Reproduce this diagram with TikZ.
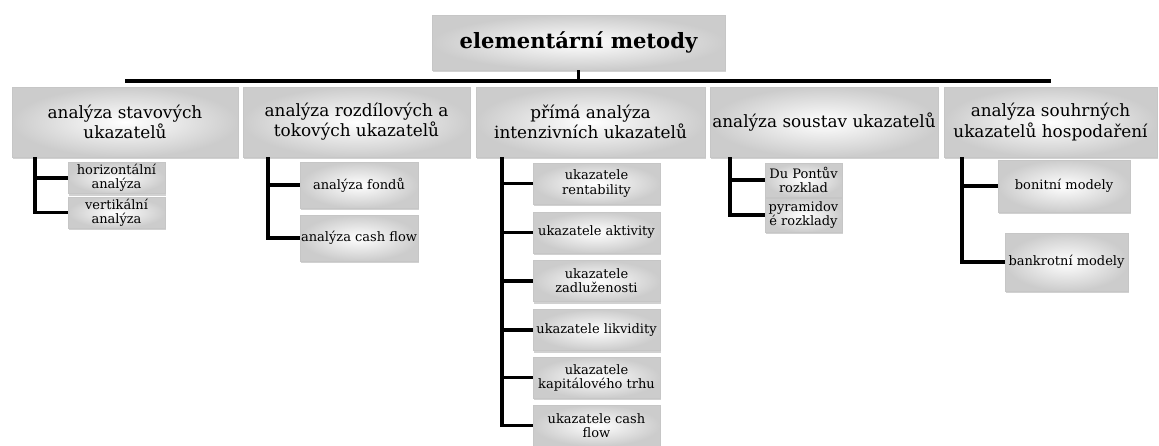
\documentclass[tikz,border=0pt]{standalone}
\usepackage{fontspec}
\setmainfont{DejaVu Serif}
\usetikzlibrary{shadows}

\begin{document}
\begin{tikzpicture}[x=0.02cm, y=-0.02cm,
		box/.style={rectangle, inner sep=1pt, align=center, draw=gray!45, line width=0.4pt, inner color=white, outer color=gray!40, drop shadow={shadow xshift=0.8pt, shadow yshift=-1.2pt, fill=gray!60, opacity=0.6}},
		rootBox/.style={box, font=\fontsize{12}{14}\selectfont\bfseries, minimum width=5.86cm, minimum height=1.1cm},
		mainBox/.style={box, font=\fontsize{9.6}{11.5}\selectfont, minimum height=1.4cm},
		subBox/.style={box, inner sep=0.5pt, font=\fontsize{7.4}{8}\selectfont},
		link/.style={line width=2.2pt, black}]
		\useasboundingbox (0,0) rectangle (1159,446);
		% top level
		\node[rootBox](root) at (578.5,42.5){elementární metody};
		\node[mainBox, minimum width=4.52cm](mainStav) at (125,122){analýza stavových\\ukazatelů};
		\node[mainBox, minimum width=4.54cm](mainRozdil) at (356.5,122){analýza rozdílových a\\tokových ukazatelů};
		\node[mainBox, minimum width=4.58cm](mainPrima) at (590.5,122){přímá analýza\\intenzivních ukazatelů};
		\node[mainBox, minimum width=4.56cm](mainSoustav) at (824,122){analýza soustav ukazatelů};
		\node[mainBox, minimum width=4.26cm](mainSouhrn) at (1050.5,122){analýza souhrných\\ukazatelů hospodaření};
		% second level
		\node[subBox, minimum width=1.94cm, minimum height=0.62cm](subHoriz) at (116.5,178){horizontální\\analýza};
		\node[subBox, minimum width=1.94cm, minimum height=0.62cm](subVert) at (116.5,212.5){vertikální\\analýza};
		\node[subBox, minimum width=2.36cm, minimum height=0.92cm](subFondy) at (359,185){analýza fondů};
		\node[subBox, minimum width=2.36cm, minimum height=0.92cm](subCash) at (359,238){analýza cash flow};
		\node[subBox, minimum width=2.54cm, minimum height=0.82cm](subRent) at (596.5,183.5){ukazatele\\rentability};
		\node[subBox, minimum width=2.54cm, minimum height=0.82cm](subAktiv) at (596.5,232.5){ukazatele aktivity};
		\node[subBox, minimum width=2.54cm, minimum height=0.82cm](subZadluz) at (596.5,281){ukazatele\\zadluženosti};
		\node[subBox, minimum width=2.54cm, minimum height=0.82cm](subLikvid) at (596.5,330){ukazatele likvidity};
		\node[subBox, minimum width=2.54cm, minimum height=0.82cm](subKapital) at (596.5,377.5){ukazatele\\kapitálového trhu};
		\node[subBox, minimum width=2.54cm, minimum height=0.82cm](subCashFlow) at (596.5,425.5){ukazatele cash\\flow};
		\node[subBox, minimum width=1.54cm, minimum height=0.68cm](subDuPont) at (803.5,180){Du Pontův\\rozklad};
		\node[subBox, minimum width=1.54cm, minimum height=0.68cm](subPyramid) at (803.5,215){pyramidov\\é rozklady};
		\node[subBox, minimum width=2.64cm, minimum height=1.04cm](subBonit) at (1064,186){bonitní modely};
		\node[subBox, minimum width=2.46cm, minimum height=1.16cm](subBankrot) at (1066.5,262){bankrotní modely};
		% connectors
		\coordinate (bus) at (578.5,81);
		\draw[link] (root.south) -- (bus);
		\draw[link] (bus -| mainStav) -- (bus -| mainSouhrn);
		\foreach \s in {subHoriz,subVert}
			\draw[link] ([xshift=0.46cm]mainStav.south west) |- (\s.west);
		\foreach \s in {subFondy,subCash}
			\draw[link] ([xshift=0.5cm]mainRozdil.south west) |- (\s.west);
		\foreach \s in {subRent,subAktiv,subZadluz,subLikvid,subKapital,subCashFlow}
			\draw[link] ([xshift=0.53cm]mainPrima.south west) |- (\s.west);
		\foreach \s in {subDuPont,subPyramid}
			\draw[link] ([xshift=0.4cm]mainSoustav.south west) |- (\s.west);
		\foreach \s in {subBonit,subBankrot}
			\draw[link] ([xshift=0.36cm]mainSouhrn.south west) |- (\s.west);
	\end{tikzpicture}
\end{document}
